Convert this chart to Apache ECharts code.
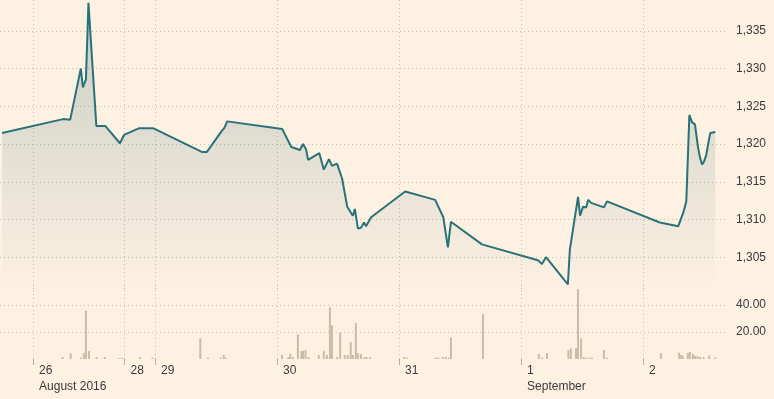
<!DOCTYPE html>
<html>
<head>
<meta charset="utf-8">
<script src="https://cdn.jsdelivr.net/npm/echarts@6/dist/echarts.min.js"></script>
<style>
  html, body { margin: 0; padding: 0; background: #fdf1e2; }
  #goldChart { width: 774px; height: 399px; }
</style>
</head>
<body>
<div id="goldChart"></div>
<script>
// x values are trading hours from 26 Aug 00:00 (weekend gap removed)
const priceHours = [-6.1, 5.9, 7.3, 9.4, 9.8, 10.4, 10.9, 12.45, 14.2, 17.1, 17.9, 20.9, 23.6,
  33.2, 34.2, 37.2, 37.6, 38.2, 49.0, 50.8, 52.5, 53.1, 53.7, 54.1, 56.3, 57.2, 58.2, 58.8,
  59.8, 60.8, 61.8, 62.9, 63.3, 63.9, 64.5, 65.1, 65.5, 66.5, 73.2, 79.1, 80.7, 81.6, 82.2,
  88.3, 99.3, 100.1, 100.9, 105.2, 105.6, 107.2, 107.6, 108.2, 108.8, 109.2, 109.8, 112.3,
  112.9, 123.3, 126.9, 127.9, 128.5, 129.1, 129.6, 130.2, 130.8, 131.2, 131.6, 132.0, 132.4,
  132.8, 133.2, 134.2];
const priceValues = [1321.45, 1323.3, 1323.2, 1330.0, 1327.5, 1328.55, 1338.7, 1322.4, 1322.4,
  1320.1, 1321.2, 1322.1, 1322.1, 1318.95, 1318.95, 1321.8, 1322.1, 1323.0, 1322.0, 1319.6,
  1319.2, 1320.0, 1319.3, 1317.9, 1318.8, 1316.6, 1318.0, 1317.1, 1317.4, 1315.4, 1311.7,
  1310.5, 1311.4, 1308.8, 1308.9, 1309.6, 1309.1, 1310.3, 1313.7, 1312.6, 1310.3, 1306.3,
  1309.7, 1306.7, 1304.6, 1304.1, 1305.0, 1301.4, 1306.05, 1313.0, 1310.5, 1311.7, 1311.6,
  1312.6, 1312.2, 1311.6, 1312.4, 1309.6, 1309.1, 1310.9, 1312.4, 1323.85, 1322.9, 1322.6,
  1319.6, 1318.2, 1317.3, 1317.7, 1318.5, 1320.0, 1321.45, 1321.6];

const volHours = [5.8, 7.4, 9.4, 10.0, 10.4, 11.0, 12.5, 14.1, 17.0, 17.6, 21.0, 23.5,
  32.9, 34.4, 36.9, 37.5, 37.9, 49.0, 50.2, 50.6, 51.1, 52.1, 52.8, 53.1, 53.6, 54.2, 56.2,
  57.2, 57.8, 58.4, 58.8, 59.8, 60.4, 61.3, 61.9, 62.5, 62.9, 63.5, 63.9, 64.5, 65.2, 65.6,
  66.3, 73.0, 73.6, 79.2, 79.7, 80.6, 81.2, 81.8, 82.2, 88.5, 99.5, 100.1, 101.1, 105.3,
  105.8, 106.8, 107.2, 107.8, 108.3, 108.8, 109.4, 109.9, 112.3, 112.9, 123.5, 127.1, 127.5,
  127.8, 128.8, 129.2, 129.8, 130.2, 130.7, 131.2, 131.9, 133.0, 134.2];
const volValues = [1.5, 4.2, 1, 4.4, 36, 5.9, 1.5, 1.5, 0.7, 0.7, 1.5, 1,
  15.3, 1, 1, 3, 1, 3, 1.5, 3.9, 1.5, 18.3, 5.9, 6, 6.7, 1.5, 3,
  5.9, 3, 38.3, 25, 1.5, 19.5, 3, 3, 12.6, 3, 26.7, 4.4, 3.7, 1.5, 1.5,
  1.5, 1.5, 1, 1, 1, 1.5, 1.5, 1, 16, 33.3, 3.7, 1, 4.4, 6.7,
  7.9, 8, 51.8, 15.3, 1.5, 1, 1, 1, 6.7, 1, 4.2, 4.7, 3,
  2.2, 4.4, 5.2, 3.9, 2.2, 2.2, 1.5, 1.5, 2.7, 1.2];

const dayTicks = [0, 18, 24, 48, 72, 96, 120];
const dayLabels = ['26', '28', '29', '30', '31', '1', '2'];
const monthLabels = ['August 2016', '', '', '', '', 'September', ''];
const priceTicks = [1305, 1310, 1315, 1320, 1325, 1330, 1335];
const volTicks = [20, 40];

let myChart = echarts.init(document.getElementById('goldChart'));

const gridColor = '#cbbfb3';
const textStyle = { color: '#3a3a3a', fontSize: 12, fontFamily: 'Liberation Sans, Arial, sans-serif' };

let option = {
  backgroundColor: '#fdf1e2',
  animation: false,
  grid: [
    { left: 0, right: 46, top: 0, height: 290 },
    { left: 0, right: 46, top: 286, bottom: 40 }
  ],
  xAxis: [
    {
      type: 'value', gridIndex: 0, min: -6.5, max: 136.7,
      axisLine: { show: false },
      axisTick: { show: false, customValues: dayTicks },
      axisLabel: { show: false, customValues: dayTicks },
      splitLine: { show: true, lineStyle: { color: gridColor, type: [1, 3] } }
    },
    {
      type: 'value', gridIndex: 1, min: -6.5, max: 136.7,
      axisLine: { show: false },
      axisTick: { show: true, length: 6, customValues: dayTicks, lineStyle: { color: '#b8aca0' } },
      axisLabel: Object.assign({
        customValues: dayTicks,
        align: 'left',
        padding: [0, 0, 0, 6],
        margin: 4,
        lineHeight: 16,
        formatter: function (v) {
          let i = dayTicks.indexOf(v);
          return monthLabels[i] ? dayLabels[i] + '\n' + monthLabels[i] : dayLabels[i];
        }
      }, textStyle),
      splitLine: { show: true, lineStyle: { color: gridColor, type: [1, 3] } }
    }
  ],
  yAxis: [
    {
      type: 'value', gridIndex: 0, position: 'right',
      min: 1300.66, max: 1339.08,
      axisLine: { show: false },
      axisTick: { show: false, customValues: priceTicks },
      axisLabel: Object.assign({
        customValues: priceTicks,
        margin: 8,
        formatter: function (v) { return v.toLocaleString('en-US'); }
      }, textStyle),
      splitLine: { show: true, lineStyle: { color: gridColor, type: [1, 3] } }
    },
    {
      type: 'value', gridIndex: 1, position: 'right',
      min: 0, max: 54.07,
      axisLine: { show: false },
      axisTick: { show: false, customValues: volTicks },
      axisLabel: Object.assign({
        customValues: volTicks,
        margin: 8,
        formatter: function (v) { return v.toFixed(2); }
      }, textStyle),
      splitLine: { show: true, lineStyle: { color: gridColor, type: [1, 3] } }
    }
  ],
  series: [
    {
      name: 'price',
      type: 'line',
      xAxisIndex: 0, yAxisIndex: 0,
      showSymbol: false,
      clip: false,
      data: priceHours.map((h, i) => [h, priceValues[i]]),
      lineStyle: { color: '#2a7279', width: 2 },
      areaStyle: {
        origin: 'start',
        color: new echarts.graphic.LinearGradient(0, 0, 0, 1, [
          { offset: 0, color: 'rgba(60,110,115,0.4)' },
          { offset: 1, color: 'rgba(60,110,115,0)' }
        ])
      }
    },
    {
      name: 'volume',
      type: 'bar',
      xAxisIndex: 1, yAxisIndex: 1,
      barWidth: 2,
      data: volHours.map((h, i) => [h, volValues[i]]),
      itemStyle: { color: '#cdbba9' }
    }
  ]
};

option && myChart.setOption(option);
</script>
</body>
</html>
